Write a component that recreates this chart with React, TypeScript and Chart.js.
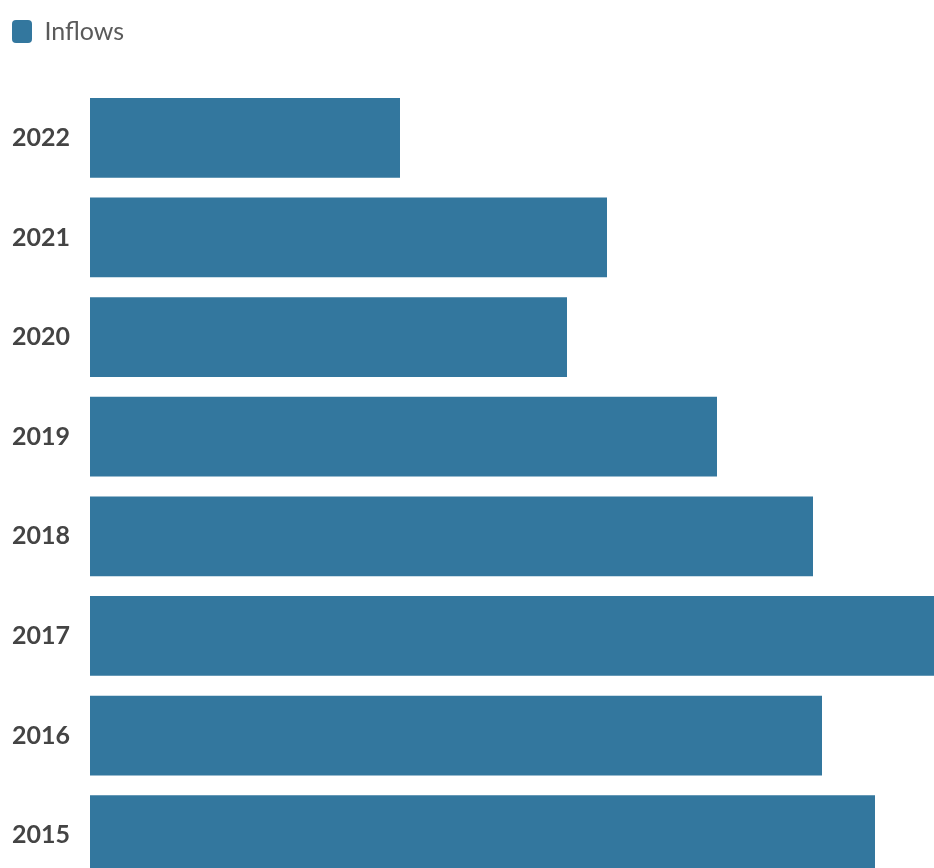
import React, { useEffect, useRef } from "react";
import { Chart, registerables } from "chart.js";

Chart.register(...registerables);

const categories: string[] = ["2022", "2021", "2020", "2019", "2018", "2017", "2016", "2015"];
const inflows: number[] = [31.0, 51.7, 47.7, 62.7, 72.3, 84.4, 73.2, 78.5];
const seriesLabel = "Inflows";
const barColor = "#33779e";

export default function App() {
  const canvasRef = useRef<HTMLCanvasElement | null>(null);

  useEffect(() => {
    if (!canvasRef.current) return;
    const legendSpacer = {
      id: "legendSpacer",
      beforeInit(chart: any) {
        if (!chart.legend) return;
        const origFit = chart.legend.fit;
        chart.legend.fit = function () {
          origFit.bind(chart.legend)();
          this.height += 34;
        };
      },
    };
    const chart = new Chart(canvasRef.current, {
      type: "bar",
      data: {
        labels: categories,
        datasets: [
          {
            label: seriesLabel,
            data: inflows,
            backgroundColor: barColor,
            borderWidth: 0,
            borderRadius: 0,
            barPercentage: 0.8,
            categoryPercentage: 1.0,
          } as any,
        ],
      },
      options: {
        indexAxis: "y",
        animation: false,
        responsive: false,
        maintainAspectRatio: false,
        devicePixelRatio: 1,
        layout: { padding: { top: 7, left: 0, right: 0, bottom: 0 } },
        plugins: {
          legend: {
            display: true,
            position: "top",
            align: "start",
            labels: {
              boxWidth: 20,
              boxHeight: 23,
              padding: 12,
              useBorderRadius: true,
              borderRadius: 4,
              color: "#5a5a5a",
              font: { family: "Lato", size: 25 },
            } as any,
          },
          tooltip: { enabled: false },
        },
        scales: {
          x: {
            display: false,
            min: 0,
            max: Math.max(...inflows),
          },
          y: {
            grid: { display: false, drawTicks: false },
            border: { display: false },
            ticks: {
              padding: 20,
              color: "#444444",
              font: { family: "Lato", size: 25, weight: "bold" },
            },
            afterFit(scale: any) {
              scale.width = 90;
            },
          },
        },
      },
      plugins: [legendSpacer],
    });
    return () => chart.destroy();
  }, []);

  return (
    <div
      style={{
        position: "fixed",
        top: 0,
        left: 0,
        width: 934,
        height: 868,
        overflow: "hidden",
        background: "#ffffff",
      }}
    >
      <canvas
        ref={canvasRef}
        width={934}
        height={920}
        style={{ display: "block", width: 934, height: 920 }}
      />
    </div>
  );
}
